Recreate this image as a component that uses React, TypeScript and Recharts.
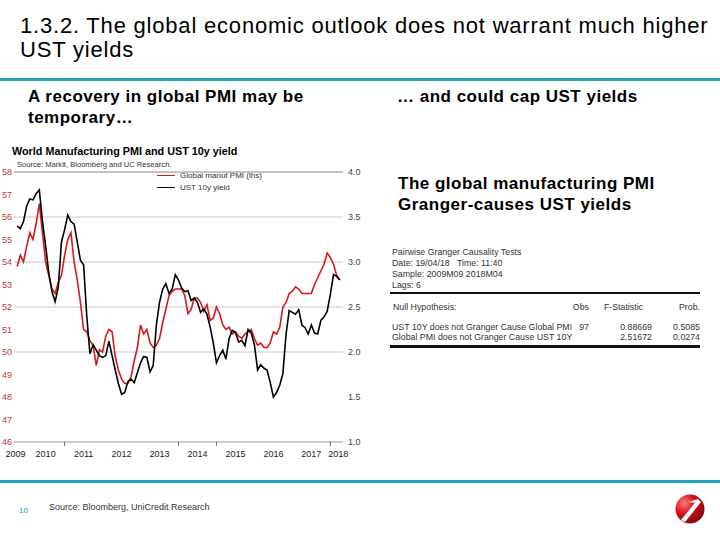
import { LineChart, Line, XAxis, YAxis, ReferenceLine } from "recharts"

// monthly, Oct 2009 .. Apr 2018
const pmi = [
  53.8, 54.3, 54.0, 54.7, 55.3, 55.0, 55.7, 56.6, 55.3, 54.0,
  53.4, 52.8, 52.6, 53.1, 53.4, 54.3, 55.0, 55.3, 54.0, 53.2,
  52.2, 51.0, 50.9, 50.5, 50.3, 49.4, 50.1, 50.0, 50.7, 51.0,
  50.9, 49.8, 49.2, 48.8, 48.6, 48.6, 48.9, 49.6, 50.2, 51.2,
  50.8, 51.0, 50.4, 50.2, 50.3, 50.6, 51.3, 51.9, 52.5, 52.7,
  52.8, 52.8, 52.8, 52.5, 51.7, 51.9, 52.4, 52.4, 52.2, 51.8,
  52.1, 51.4, 51.5, 52.0, 51.7, 51.2, 51.0, 51.1, 50.8, 50.9,
  50.7, 50.6, 50.8, 50.9, 51.0, 50.6, 50.3, 50.4, 50.2, 50.2,
  50.4, 50.9, 50.8, 51.1, 52.0, 52.2, 52.6, 52.7, 52.9, 52.8,
  52.6, 52.6, 52.6, 52.6, 53.0, 53.3, 53.6, 53.9, 54.4, 54.2,
  53.9, 53.4, 53.2,
]

const ust10y = [
  3.40, 3.37, 3.45, 3.62, 3.70, 3.69, 3.76, 3.80, 3.45, 3.18,
  2.88, 2.67, 2.56, 2.72, 3.22, 3.36, 3.52, 3.45, 3.42, 3.22,
  3.02, 2.97, 2.40, 1.98, 2.08, 2.02, 1.96, 1.94, 1.96, 2.12,
  1.96, 1.80, 1.65, 1.53, 1.55, 1.67, 1.70, 1.66, 1.77, 1.88,
  1.95, 1.94, 1.78, 1.85, 2.30, 2.55, 2.70, 2.76, 2.65, 2.70,
  2.86, 2.80, 2.71, 2.67, 2.68, 2.57, 2.60, 2.55, 2.44, 2.48,
  2.42, 2.28, 2.10, 1.88, 1.96, 2.02, 1.92, 2.15, 2.24, 2.22,
  2.11, 2.13, 2.07, 2.25, 2.21, 2.08, 1.80, 1.86, 1.82, 1.80,
  1.66, 1.50, 1.55, 1.63, 1.76, 2.20, 2.46, 2.44, 2.42, 2.47,
  2.30, 2.27, 2.20, 2.30, 2.21, 2.20, 2.35, 2.39, 2.45, 2.64,
  2.86, 2.84, 2.80,
]

const yearLabels = ["2009", "2010", "2011", "2012", "2013", "2014", "2015", "2016", "2017", "2018"]
const yearLabelPos = [-0.5, 9, 21, 33, 45, 57, 69, 81, 93, 101.5]
const tickMarks = [15, 51, 63, 99]
const pmiTicks = [46, 47, 48, 49, 50, 51, 52, 53, 54, 55, 56, 57, 58]
const yieldTicks = [1.0, 1.5, 2.0, 2.5, 3.0, 3.5, 4.0]
const gridLines = [2.0, 2.5, 3.0, 3.5]

const seriesNames = ["Global manuf PMI (lhs)", "UST 10y yield"]
const seriesColors = ["#d7191c", "#000000"]

const tableRows = [
  ["UST 10Y does not Granger Cause Global PMI", "97", "0.88669", "0.5085"],
  ["Global PMI does not Granger Cause UST 10Y", "", "2.51672", "0.0274"],
]

const data = pmi.map((p, i) => ({ m: i, pmi: p, ust: ust10y[i] }))

const FONT = '"Liberation Sans", Arial, sans-serif'
const TEAL = "#22a3b6"

function YearTick(props: any) {
  const { x, y, payload } = props
  const v = payload.value
  if (tickMarks.includes(v)) {
    return <line x1={x} x2={x} y1={y - 6} y2={y - 2} stroke="#666" />
  }
  const i = yearLabelPos.indexOf(v)
  return (
    <text x={x} y={y} dy={9} textAnchor="middle" fontSize={9} fill="#222" fontFamily={FONT}>
      {yearLabels[i]}
    </text>
  )
}

function Txt({ x, y, size, bold, color, children, style }: any) {
  return (
    <div
      style={{
        position: "absolute",
        left: x,
        top: y - 10,
        lineHeight: "20px",
        fontSize: size,
        fontWeight: bold ? "bold" : "normal",
        color: color || "#000",
        whiteSpace: "nowrap",
        ...style,
      }}
    >
      {children}
    </div>
  )
}

function PmiChart() {
  return (
    <div style={{ position: "absolute", left: 0, top: 150, width: 400, height: 312 }}>
      <LineChart width={400} height={312} data={data} margin={{ top: 22, right: 17, left: 0, bottom: 0 }}>
        <XAxis
          dataKey="m"
          type="number"
          domain={[-1, 103]}
          ticks={[...yearLabelPos, ...tickMarks].sort((a, b) => a - b)}
          interval={0}
          height={20}
          tickLine={false}
          tickSize={4}
          tickMargin={2}
          axisLine={{ stroke: "#999" }}
          tick={<YearTick />}
        />
        <YAxis
          yAxisId="left"
          domain={[46, 58]}
          ticks={pmiTicks}
          interval={0}
          width={14}
          axisLine={false}
          tickLine={false}
          tickSize={0}
          tickMargin={2}
          tick={{ fontSize: 9, fill: "#b83a3a", fontFamily: FONT }}
        />
        <YAxis
          yAxisId="right"
          orientation="right"
          domain={[1, 4]}
          ticks={yieldTicks}
          interval={0}
          width={40}
          axisLine={false}
          tickLine={false}
          tickSize={0}
          tickMargin={5}
          tickFormatter={(v: number) => v.toFixed(1)}
          tick={{ fontSize: 9, fill: "#444", fontFamily: FONT }}
        />
        {gridLines.map((g) => (
          <ReferenceLine key={g} yAxisId="right" y={g} stroke="#c8c8c8" />
        ))}
        <ReferenceLine yAxisId="right" y={4} stroke="#888" />
        <Line
          yAxisId="left"
          type="linear"
          dataKey="pmi"
          name={seriesNames[0]}
          stroke={seriesColors[0]}
          strokeWidth={1.6}
          dot={false}
          isAnimationActive={false}
        />
        <Line
          yAxisId="right"
          type="linear"
          dataKey="ust"
          name={seriesNames[1]}
          stroke={seriesColors[1]}
          strokeWidth={1.6}
          dot={false}
          isAnimationActive={false}
        />
      </LineChart>
      <div style={{ position: "absolute", left: 157, top: 20, fontSize: 8, color: "#333", lineHeight: "12px" }}>
        {seriesNames.map((n, i) => (
          <div key={n} style={{ whiteSpace: "nowrap" }}>
            <span
              style={{
                display: "inline-block",
                width: 18,
                borderTop: `1.5px solid ${seriesColors[i]}`,
                verticalAlign: "middle",
                marginRight: 5,
              }}
            />
            {n}
          </div>
        ))}
      </div>
    </div>
  )
}

function Logo() {
  return (
    <svg width={32} height={32} style={{ position: "absolute", left: 674, top: 493 }}>
      <defs>
        <radialGradient id="ball" cx="0.3" cy="0.3" r="0.8">
          <stop offset="0%" stopColor="#ff7a7a" />
          <stop offset="45%" stopColor="#d3141b" />
          <stop offset="100%" stopColor="#7e0810" />
        </radialGradient>
      </defs>
      <circle cx={16} cy={16} r={14.5} fill="url(#ball)" />
      <path d="M7 27 L24 6 L27 9 L11 29 Z" fill="#fff" />
      <path d="M14 9 L24 6 L21 10 Z" fill="#fff" opacity={0.85} />
    </svg>
  )
}

const big = { fontSize: 17, fontWeight: "bold" as const, letterSpacing: 0.5, lineHeight: "21px" }

export default function App() {
  return (
    <div
      style={{
        position: "absolute",
        left: 0,
        top: 0,
        width: 720,
        height: 540,
        background: "#fff",
        fontFamily: FONT,
        overflow: "hidden",
      }}
    >
      <div
        style={{
          position: "absolute",
          left: 20,
          top: 14,
          fontSize: 22,
          letterSpacing: 0.8,
          lineHeight: "24px",
          color: "#000",
          whiteSpace: "nowrap",
        }}
      >
        1.3.2. The global economic outlook does not warrant much higher
        <br />
        UST yields
      </div>
      <div style={{ position: "absolute", left: 0, top: 78, width: 720, height: 3, background: TEAL }} />

      <div style={{ position: "absolute", left: 28, top: 86, whiteSpace: "nowrap", ...big }}>
        A recovery in global PMI may be
        <br />
        temporary…
      </div>
      <div style={{ position: "absolute", left: 397, top: 86, whiteSpace: "nowrap", ...big }}>
        … and could cap UST yields
      </div>

      <Txt x={12} y={151} size={10.8} bold>World Manufacturing PMI and UST 10y yield</Txt>
      <Txt x={17} y={165} size={7.6} color="#333">Source: Markit, Bloomberg and UC Research.</Txt>

      <PmiChart />

      <div style={{ position: "absolute", left: 398, top: 173, whiteSpace: "nowrap", ...big }}>
        The global manufacturing PMI
        <br />
        Granger-causes UST yields
      </div>

      <Txt x={392} y={252} size={8.8} color="#333">Pairwise Granger Causality Tests</Txt>
      <Txt x={392} y={263} size={8.8} color="#333">Date: 19/04/18&nbsp;&nbsp; Time: 11:40</Txt>
      <Txt x={392} y={274} size={8.8} color="#333">Sample: 2009M09 2018M04</Txt>
      <Txt x={392} y={285} size={8.8} color="#333">Lags: 6</Txt>
      <div style={{ position: "absolute", left: 390, top: 292, width: 310, height: 1.5, background: "#111" }} />
      <Txt x={393} y={307} size={8.8} color="#333">Null Hypothesis:</Txt>
      <Txt x={558} y={307} size={8.8} color="#333" style={{ width: 31, textAlign: "right" }}>Obs</Txt>
      <Txt x={592} y={307} size={8.8} color="#333" style={{ width: 51, textAlign: "right" }}>F-Statistic</Txt>
      <Txt x={650} y={307} size={8.8} color="#333" style={{ width: 50, textAlign: "right" }}>Prob.</Txt>
      {tableRows.map((r, i) => (
        <div key={i}>
          <Txt x={392} y={327 + i * 10} size={8.8} color="#333">{r[0]}</Txt>
          <Txt x={561} y={327 + i * 10} size={8.8} color="#333" style={{ width: 28, textAlign: "right" }}>{r[1]}</Txt>
          <Txt x={600} y={327 + i * 10} size={8.8} color="#333" style={{ width: 52, textAlign: "right" }}>{r[2]}</Txt>
          <Txt x={650} y={327 + i * 10} size={8.8} color="#333" style={{ width: 50, textAlign: "right" }}>{r[3]}</Txt>
        </div>
      ))}
      <div style={{ position: "absolute", left: 390, top: 345, width: 310, height: 3, background: "#111" }} />

      <div style={{ position: "absolute", left: 0, top: 480, width: 720, height: 3, background: TEAL }} />
      <Txt x={19} y={511} size={8} color={TEAL}>10</Txt>
      <Txt x={49} y={507} size={9} color="#333">Source: Bloomberg, UniCredit Research</Txt>
      <Logo />
    </div>
  )
}
